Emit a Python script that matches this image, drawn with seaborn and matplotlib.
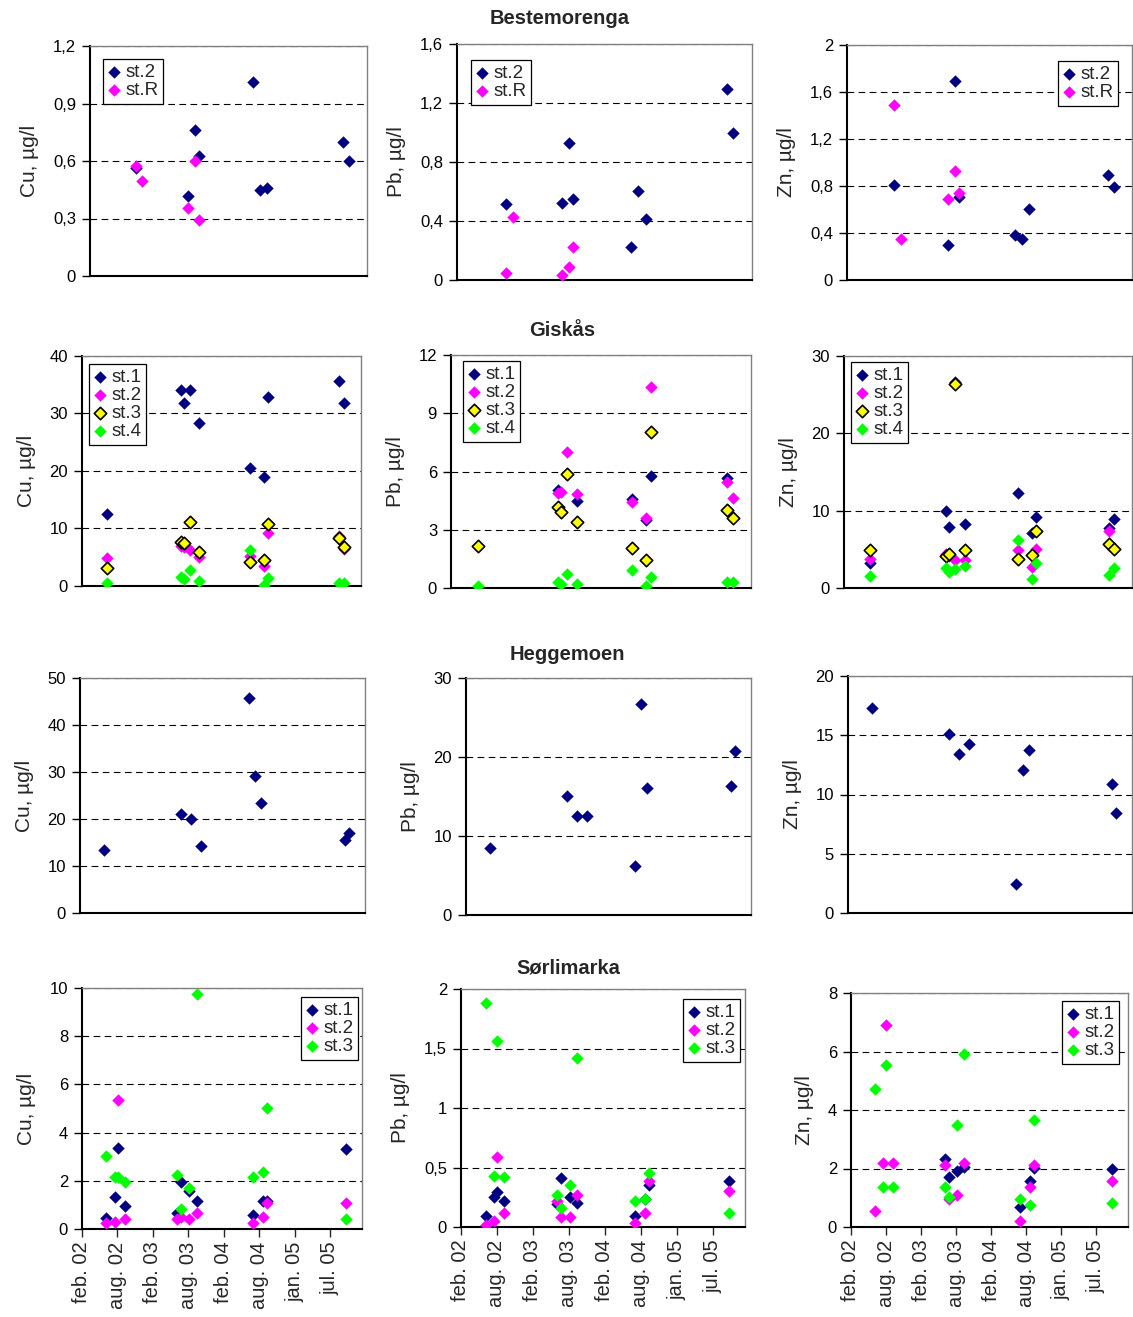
import matplotlib
matplotlib.use("Agg")
import matplotlib.pyplot as plt
import matplotlib.ticker as mticker
import numpy as np
import pandas as pd
import seaborn as sns

nan = np.nan

# shared date axis
x_start, x_end = "2002-02-15", "2006-01-07"
x_tick_dates = ["2002-02-15", "2002-08-14", "2003-02-10", "2003-08-09",
                "2004-02-05", "2004-08-03", "2005-01-30", "2005-07-29"]
x_tick_labels = ["feb. 02", "aug. 02", "feb. 03", "aug. 03",
                 "feb. 04", "aug. 04", "jan. 05", "jul. 05"]

# Bestemorenga
best_dates = ["2002-10-08", "2002-11-11", "2003-07-05", "2003-08-09", "2003-08-28",
              "2004-06-03", "2004-07-06", "2004-08-13", "2005-09-08", "2005-10-08"]
best_cu_st2 = [0.565, nan, 0.415, 0.76, 0.628, 1.01, 0.447, 0.457, 0.698, 0.60]
best_cu_stR = [0.572, 0.497, 0.354, 0.60, 0.29, nan, nan, nan, nan, nan]
best_pb_st2 = [0.514, nan, 0.525, 0.932, 0.552, 0.226, 0.606, 0.416, 1.297, 1.0]
best_pb_stR = [0.05, 0.43, 0.036, 0.09, 0.226, nan, nan, nan, nan, nan]
best_zn_st2 = [0.81, nan, 0.298, 1.69, 0.71, 0.386, 0.35, 0.607, 0.896, 0.794]
best_zn_stR = [1.49, 0.352, 0.69, 0.93, 0.743, nan, nan, nan, nan, nan]

# Giskås
gis_dates = ["2002-06-23", "2003-07-06", "2003-07-20", "2003-08-19", "2003-10-05",
             "2004-06-21", "2004-08-29", "2004-09-20", "2005-09-15", "2005-10-12"]
gis_cu_st1 = [12.5, 34.1, 31.9, 34.1, 28.4, 20.5, 19.0, 32.9, 35.7, 31.9]
gis_cu_st2 = [4.8, 6.9, 6.8, 6.3, 5.1, 5.2, 3.4, 9.3, 8.7, 6.5]
gis_cu_st3 = [3.1, 7.6, 7.5, 11.1, 5.9, 4.1, 4.5, 10.8, 8.3, 6.8]
gis_cu_st4 = [0.6, 1.6, 1.3, 2.8, 0.9, 6.3, 0.2, 1.4, 0.6, 0.6]
gis_pb_st1 = [nan, 5.06, nan, nan, 4.5, 4.58, 3.48, 5.78, 5.69, nan]
gis_pb_st2 = [nan, 4.89, 4.92, 7.0, 4.83, 4.42, 3.6, 10.37, 5.45, 4.63]
gis_pb_st3 = [2.18, 4.15, 3.89, 5.86, 3.39, 2.07, 1.46, 8.02, 4.03, 3.6]
gis_pb_st4 = [0.12, 0.31, 0.22, 0.72, 0.22, 0.94, 0.09, 0.55, 0.31, 0.31]
gis_zn_st1 = [3.28, 10.0, 7.9, 26.6, 8.24, 12.34, 7.16, 9.19, 7.77, 8.98]
gis_zn_st2 = [3.8, 4.45, 4.2, 3.58, 3.58, 4.88, 2.72, 5.09, 7.38, 5.0]
gis_zn_st3 = [4.88, 4.1, 4.36, 26.37, 4.88, 3.8, 4.32, 7.38, 5.65, 5.09]
gis_zn_st4 = [1.51, 2.59, 2.07, 2.5, 2.8, 6.17, 1.21, 3.28, 1.73, 2.59]

# Heggemoen
heg_dates = ["2002-06-13", "2003-07-06", "2003-08-24", "2003-10-12", "2004-06-07",
             "2004-07-09", "2004-08-07", "2005-09-28", "2005-10-19"]
heg_cu_st1 = [13.5, 21.1, 19.9, 14.3, 45.7, 29.2, 23.3, 15.5, 17.0]
heg_pb_st1 = [8.53, 15.08, 12.55, 12.55, 6.25, 26.7, 16.1, 16.35, 20.7]
heg_zn_st1 = [17.28, 15.11, 13.43, 14.27, 2.47, 12.08, 13.76, 10.9, 8.4]

# Sørlimarka
sor_dates = ["2002-06-19", "2002-07-31", "2002-08-16", "2002-09-19", "2003-06-12",
             "2003-07-03", "2003-08-14", "2003-09-20", "2004-07-03", "2004-08-22",
             "2004-09-13", "2005-10-17"]
sor_cu_st1 = [0.44, 1.31, 3.38, 0.97, 0.65, 1.96, 1.57, 1.15, 0.58, 1.17, 1.17, 3.3]
sor_cu_st2 = [0.23, 0.30, 5.37, 0.40, 0.40, 0.48, 0.40, 0.65, 0.23, 0.48, 1.06, 1.06]
sor_cu_st3 = [3.04, 2.14, 2.14, 1.96, 2.24, 0.83, 1.71, 9.77, 2.14, 2.38, 5.03, 0.41]
sor_pb_st1 = [0.09, 0.25, 0.29, 0.22, 0.19, 0.41, 0.25, 0.20, 0.09, 0.235, 0.35, 0.39]
sor_pb_st2 = [0.014, 0.048, 0.59, 0.118, 0.216, 0.084, 0.084, 0.27, 0.034, 0.118, 0.39, 0.30]
sor_pb_st3 = [1.88, 0.43, 1.56, 0.42, 0.27, 0.16, 0.35, 1.42, 0.22, 0.235, 0.45, 0.118]
sor_zn_st1 = [nan, nan, nan, nan, 2.34, 1.71, 1.9, 2.04, 0.67, 1.58, 2.02, 1.98]
sor_zn_st2 = [0.56, 2.19, 6.89, 2.19, 2.13, 0.96, 1.08, 2.19, 0.22, 1.36, 2.13, 1.58]
sor_zn_st3 = [4.72, 1.36, 5.53, 1.36, 1.36, 1.03, 3.48, 5.93, 0.96, 0.74, 3.67, 0.82]

site_titles = ["Bestemorenga", "Giskås", "Heggemoen", "Sørlimarka"]
ylabels = ["Cu, µg/l", "Pb, µg/l", "Zn, µg/l"]

NAVY, MAGENTA, YELLOW, LIME = "#000080", "#ff00ff", "#ffff00", "#00ff00"
# (face, edge, linewidth)
ST_NAVY = (NAVY, NAVY, 0)
ST_PINK = (MAGENTA, MAGENTA, 0)
ST_YEL = (YELLOW, "black", 1.2)
ST_LIME = (LIME, LIME, 0)

sns.set_style("white")
plt.rcParams["font.family"] = ["Liberation Sans", "DejaVu Sans"]

W, H = 1133, 1317
fig = plt.figure(figsize=(W / 100, H / 100), dpi=100)


def box(l, t, r, b):
    return [l / W, 1 - b / H, (r - l) / W, (b - t) / H]


# panels: pixel box, dates, series, ymax, ystep, legend (corner, dx, dy)
panels = [
    # row 1
    ((90, 46, 367, 276), best_dates, [("st.2", best_cu_st2, ST_NAVY), ("st.R", best_cu_stR, ST_PINK)], 1.2, 0.3, ("ul", 13, 13)),
    ((457, 44, 752, 280), best_dates, [("st.2", best_pb_st2, ST_NAVY), ("st.R", best_pb_stR, ST_PINK)], 1.6, 0.4, ("ul", 14, 16)),
    ((847, 45, 1132, 280), best_dates, [("st.2", best_zn_st2, ST_NAVY), ("st.R", best_zn_stR, ST_PINK)], 2.0, 0.4, ("ur", 14, 16)),
    # row 2
    ((82, 356, 361, 586), gis_dates, [("st.1", gis_cu_st1, ST_NAVY), ("st.2", gis_cu_st2, ST_PINK),
                                     ("st.3", gis_cu_st3, ST_YEL), ("st.4", gis_cu_st4, ST_LIME)], 40, 10, ("ul", 7, 8)),
    ((451, 355, 751, 588), gis_dates, [("st.1", gis_pb_st1, ST_NAVY), ("st.2", gis_pb_st2, ST_PINK),
                                      ("st.3", gis_pb_st3, ST_YEL), ("st.4", gis_pb_st4, ST_LIME)], 12, 3, ("ul", 12, 6)),
    ((844, 356, 1132, 588), gis_dates, [("st.1", gis_zn_st1, ST_NAVY), ("st.2", gis_zn_st2, ST_PINK),
                                       ("st.3", gis_zn_st3, ST_YEL), ("st.4", gis_zn_st4, ST_LIME)], 30, 10, ("ul", 7, 6)),
    # row 3
    ((80, 678, 365, 913), heg_dates, [("st.1", heg_cu_st1, ST_NAVY)], 50, 10, None),
    ((466, 678, 751, 915), heg_dates, [("st.1", heg_pb_st1, ST_NAVY)], 30, 10, None),
    ((848, 676, 1132, 913), heg_dates, [("st.1", heg_zn_st1, ST_NAVY)], 20, 5, None),
    # row 4
    ((82, 988, 362, 1229), sor_dates, [("st.1", sor_cu_st1, ST_NAVY), ("st.2", sor_cu_st2, ST_PINK),
                                      ("st.3", sor_cu_st3, ST_LIME)], 10, 2, ("ur", 4, 9)),
    ((461, 989, 745, 1227), sor_dates, [("st.1", sor_pb_st1, ST_NAVY), ("st.2", sor_pb_st2, ST_PINK),
                                       ("st.3", sor_pb_st3, ST_LIME)], 2, 0.5, ("ur", 5, 10)),
    ((851, 993, 1128, 1227), sor_dates, [("st.1", sor_zn_st1, ST_NAVY), ("st.2", sor_zn_st2, ST_PINK),
                                        ("st.3", sor_zn_st3, ST_LIME)], 8, 2, ("ur", 9, 8)),
]

comma = mticker.FuncFormatter(lambda v, p: f"{v:g}".replace(".", ","))

for i, (pbox, dates, series, ymax, ystep, leg) in enumerate(panels):
    ax = fig.add_axes(box(*pbox))
    x = pd.to_datetime(dates)
    for label, vals, (face, edge, lw) in series:
        sns.scatterplot(x=x, y=vals, ax=ax, marker="D", s=40, color=face,
                        edgecolor=edge, linewidth=lw, label=label, zorder=3,
                        legend=leg is not None)
    ax.set_xlim(pd.Timestamp(x_start), pd.Timestamp(x_end))
    ax.set_ylim(0, ymax)
    ax.yaxis.set_major_locator(mticker.MultipleLocator(ystep))
    ax.yaxis.set_major_formatter(comma)
    ax.yaxis.grid(True, linestyle=(0, (6, 4)), color="black", linewidth=0.8)
    ax.set_axisbelow(True)
    ax.set_ylabel(ylabels[i % 3], fontsize=15, labelpad=10)
    ax.set_xlabel("")
    for s in ("left", "bottom"):
        ax.spines[s].set_color("black")
        ax.spines[s].set_linewidth(1.5)
    for s in ("top", "right"):
        ax.spines[s].set_color("#808080")
        ax.spines[s].set_linewidth(1.0)
    ax.tick_params(axis="y", direction="out", length=6, width=1, left=True,
                   labelsize=12, pad=4, colors="black")
    if i >= 9:
        ax.set_xticks(pd.to_datetime(x_tick_dates))
        ax.set_xticklabels(x_tick_labels, rotation=90, fontsize=14.5)
        ax.tick_params(axis="x", direction="out", length=6, width=1, bottom=True, pad=3)
    else:
        ax.set_xticks([])
    if leg is not None:
        corner, dx, dy = leg
        l, t, r, b = pbox
        fy = 1 - dy / (b - t)
        if corner == "ul":
            anchor, loc = (dx / (r - l), fy), "upper left"
        else:
            anchor, loc = (1 - dx / (r - l), fy), "upper right"
        ax.legend(loc=loc, bbox_to_anchor=anchor, borderaxespad=0, fontsize=13.5,
                  frameon=True, fancybox=False, edgecolor="black", framealpha=1,
                  handlelength=0.7, handletextpad=0.25, borderpad=0.25,
                  labelspacing=0.05, markerscale=1.0).get_frame().set_linewidth(0.9)

title_pos = [(560, 18), (562, 330), (567, 655), (568, 968)]
for name, (tx, ty) in zip(site_titles, title_pos):
    fig.text(tx / W, 1 - ty / H, name, ha="center", va="center",
             fontsize=14.5, fontweight="bold")

fig.savefig("out.png", dpi=100)
